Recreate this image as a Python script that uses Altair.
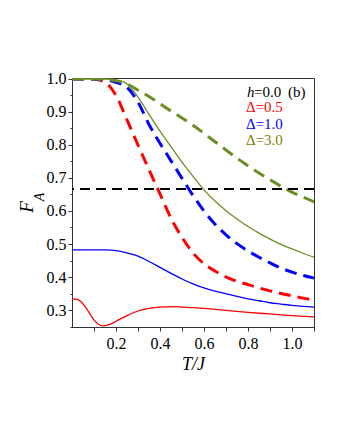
import altair as alt
import pandas as pd

# ---------------- data ----------------
T_grid = [0.0, 0.05, 0.1, 0.15, 0.2, 0.25, 0.3, 0.35, 0.4, 0.45, 0.5, 0.55,
          0.6, 0.65, 0.7, 0.75, 0.8, 0.85, 0.9, 0.95, 1.0, 1.05, 1.1]

F_red_dashed = [1.0, 1.0, 0.999, 0.99, 0.95, 0.876, 0.80, 0.725, 0.652, 0.578, 0.52, 0.473,
                0.44, 0.418, 0.40, 0.387, 0.377, 0.367, 0.358, 0.350, 0.343, 0.336, 0.330]
F_blue_dashed = [1.0, 1.0, 1.0, 0.998, 0.99, 0.975, 0.93, 0.862, 0.805, 0.752, 0.699, 0.647,
                 0.600, 0.560, 0.528, 0.501, 0.479, 0.460, 0.443, 0.427, 0.415, 0.405, 0.397]
F_green_solid = [1.0, 1.0, 1.0, 1.0, 0.997, 0.985, 0.945, 0.893, 0.842, 0.795, 0.748, 0.705,
                 0.664, 0.630, 0.601, 0.576, 0.553, 0.533, 0.515, 0.499, 0.485, 0.472, 0.460]
F_green_dashed = [1.0, 1.0, 1.0, 0.999, 0.995, 0.985, 0.966, 0.947, 0.925, 0.903, 0.882, 0.86,
                  0.835, 0.81, 0.785, 0.760, 0.737, 0.715, 0.695, 0.675, 0.657, 0.642, 0.628]
F_blue_solid = [0.482, 0.482, 0.482, 0.482, 0.480, 0.473, 0.463, 0.447, 0.429, 0.411, 0.394, 0.379,
                0.367, 0.357, 0.349, 0.341, 0.334, 0.328, 0.322, 0.318, 0.314, 0.311, 0.309]

T_red_solid = [0.0, 0.02, 0.04, 0.06, 0.08, 0.1, 0.12, 0.14, 0.16, 0.18, 0.2, 0.25, 0.3,
               0.35, 0.4, 0.45, 0.5, 0.6, 0.7, 0.8, 0.9, 1.0, 1.1]
F_red_solid = [0.334, 0.333, 0.326, 0.31, 0.29, 0.27, 0.257, 0.252, 0.254, 0.259, 0.266, 0.283, 0.297,
               0.305, 0.309, 0.310, 0.309, 0.305, 0.299, 0.293, 0.288, 0.283, 0.279]

F_ref = [2 / 3]

legend_labels = ["=0.0", "Δ=0.5", "Δ=1.0", "Δ=3.0"]
legend_colors = ["black", "#ff0000", "#0000ff", "#808000"]

RED = "#ff0000"
BLUE = "#0000ff"
GREEN = "#6b8e23"
FONT = "'Liberation Serif', 'Times New Roman', Times, serif"

xs = alt.Scale(domain=[0, 1.1], nice=False, zero=False)
ys = alt.Scale(domain=[0.2485, 1.003], nice=False, zero=False)

x_ticks = [round(0.1 * i, 1) for i in range(1, 12)]
y_ticks = [round(0.25 + 0.05 * i, 2) for i in range(16)]

x_axis = alt.Axis(values=x_ticks, title="T/J",
                  labelExpr="round(datum.value*10) % 2 == 0 ? format(datum.value, '.1f') : ''",
                  tickSize=4, labelPadding=4, titleFontStyle="italic", titleFontWeight="normal",
                  titleFontSize=18, titlePadding=4, grid=False, labelFlush=False,
                  labelFont=FONT, titleFont=FONT, labelFontSize=16)
y_axis = alt.Axis(values=y_ticks, title="",
                  labelExpr="round(datum.value*20) % 2 == 0 ? format(datum.value, '.1f') : ''",
                  tickSize={"condition": {"test": "round(datum.value*20) % 2 == 0", "value": 4}, "value": 2},
                  labelPadding=2, grid=False, labelFlush=False,
                  labelFont=FONT, labelFontSize=16)

X = alt.X("T:Q", scale=xs, axis=x_axis)
Y = alt.Y("F:Q", scale=ys, axis=y_axis)


def line_layer(T, F, color, width, dash=None):
    df = pd.DataFrame({"T": T, "F": F})
    kw = dict(color=color, strokeWidth=width, interpolate="monotone", clip=True)
    if dash:
        kw["strokeDash"] = dash
    return alt.Chart(df).mark_line(**kw).encode(x=X, y=Y)


layers = [
    line_layer(T_grid, F_blue_solid, BLUE, 1.3),
    line_layer(T_red_solid, F_red_solid, RED, 1.3),
    line_layer(T_grid, F_green_solid, GREEN, 1.3),
    line_layer(T_grid, F_red_dashed, RED, 3, dash=[12, 7]),
    line_layer(T_grid, F_blue_dashed, BLUE, 3, dash=[12, 7]),
    line_layer(T_grid, F_green_dashed, GREEN, 3, dash=[12, 7]),
]

ref = alt.Chart(pd.DataFrame({"F": F_ref})).mark_rule(
    color="black", strokeWidth=1.8, strokeDash=[10, 6]
).encode(y=Y)
layers.append(ref)


def text_layer(txt, x, y, size, color="black", style="normal", angle=0, align="left", baseline="alphabetic"):
    return alt.Chart(pd.DataFrame({"t": [txt]})).mark_text(
        font=FONT, fontSize=size, color=color, fontStyle=style, angle=angle,
        align=align, baseline=baseline
    ).encode(x=alt.value(x), y=alt.value(y), text="t:N")


# legend block
layers.append(text_layer("h", 175, 19, 15, style="italic"))
layers.append(text_layer(legend_labels[0], 182, 19, 15, color=legend_colors[0]))
layers.append(text_layer("(b)", 216, 19, 15))
for i in range(1, 4):
    layers.append(text_layer(legend_labels[i], 174, 19 + 16 * i - (1 if i == 1 else 0), 15, color=legend_colors[i]))

# y title F_A
layers.append(text_layer("F", -45, 129, 19, style="italic", angle=270, align="center", baseline="middle"))
layers.append(text_layer("A", -32, 119, 14, style="italic", angle=270, align="center", baseline="middle"))

chart = alt.layer(*layers).properties(
    width=242, height=249,
    autosize=alt.AutoSizeParams(type="none"),
    padding={"left": 64, "top": 70, "right": 10, "bottom": 80},
).configure_view(
    stroke="#333333", strokeWidth=1
).configure_axis(
    labelColor="black", titleColor="black",
    domainColor="#333333", tickColor="#333333"
)

chart.save("out.html", embed_options={"renderer": "svg", "actions": False})
